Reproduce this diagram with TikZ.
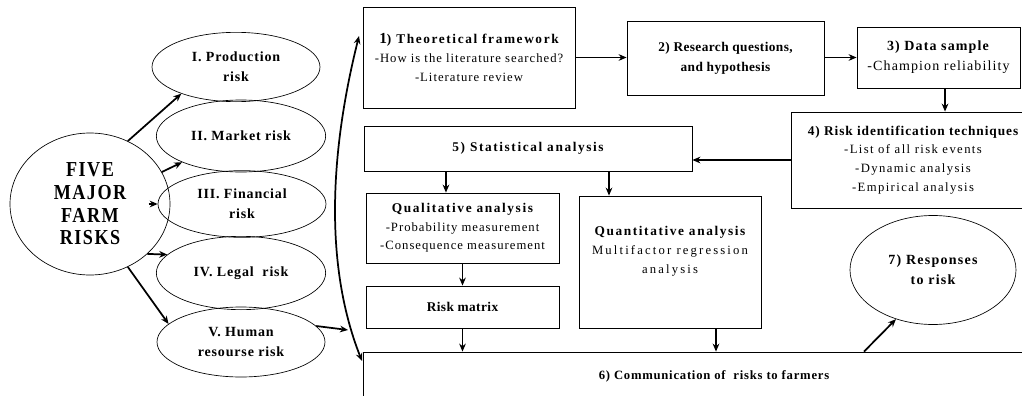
\documentclass[tikz,border=0pt]{standalone}
\usepackage{fontspec}
\setmainfont{Liberation Serif}[LetterSpace=8]
\usetikzlibrary{shapes.geometric,arrows.meta}
\newcommand{\ttl}[1]{{\fontsize{10}{13.5}\selectfont\addfontfeature{LetterSpace=12}\bfseries #1}}
\newcommand{\ls}[1]{\addfontfeature{LetterSpace=#1}}
\begin{document}
\begin{tikzpicture}[x=0.75pt,y=-0.75pt,
  box/.style={draw,line width=0.6pt,inner sep=0pt,align=center,font=\fontsize{9.5}{14}\selectfont},
  oval/.style={draw,ellipse,line width=0.5pt,inner sep=0pt,align=center,font=\bfseries\fontsize{10.5}{15}\selectfont\ls{6}},
  arr/.style={line width=1.3pt,-{Stealth[length=6pt,width=5pt]}},
  darr/.style={line width=1.3pt,{Stealth[length=6pt,width=5pt]}-{Stealth[length=6pt,width=5pt]}}]
\clip (0,0) rectangle (1022,396);
% left ellipses
\node[oval,minimum width=120pt,minimum height=106.5pt,font=\bfseries\fontsize{16}{17}\selectfont\addfontfeature{FakeStretch=0.85,LetterSpace=7}] (big) at (90,204) {FIVE\\MAJOR\\FARM\\RISKS};
\node[oval,minimum width=126pt,minimum height=52pt] (e1) at (236,67) {I. Production\\risk};
\node[oval,minimum width=127pt,minimum height=54pt] (e2) at (241,136) {II. Market risk};
\node[oval,minimum width=126pt,minimum height=50pt] (e3) at (242,204) {III. Financial\\risk};
\node[oval,minimum width=127pt,minimum height=55pt] (e4) at (241,273) {IV. Legal\ \ risk};
\node[oval,minimum width=126pt,minimum height=52.5pt] (e5) at (241,342) {V. Human\\resourse risk};
\draw[arr] (big.59) -- (e1.206);
\draw[arr] (big.24) -- (e2.204);
\draw[arr,shorten <=44pt] (big.center) -- (e3.west);
\draw[arr] (big.-41) -- (e4.166);
\draw[arr] (big.-59) -- (e5.166);
% curved double arrow
\coordinate (ct) at (359,36);
\coordinate (cb) at (362,361);
\coordinate (cm) at (348,330);
\draw[darr] (cb) .. controls (326,270) and (328,160) .. (ct);
\draw[arr] (e5.12) -- (cm);
% boxes
\node[box,minimum width=159pt,minimum height=75.75pt] (b1) at (469,57.5)
  {\ttl{{\fontsize{11.5}{13.5}\selectfont 1}) Theoretical framework}\\-How is the literature searched?\\-Literature review};
\node[box,minimum width=147.75pt,minimum height=55.5pt,font=\bfseries\fontsize{10}{15}\selectfont\ls{3}] (b2) at (725.5,58)
  {2) Research questions,\\and hypothesis};
\node[box,minimum width=122.25pt,minimum height=45.75pt,font=\fontsize{10.5}{15}\selectfont] (b3) at (938.5,57.5)
  {\textbf{3) Data sample}\\-Champion reliability};
\node[box,minimum width=183pt,minimum height=72pt,font=\fontsize{9.5}{14}\selectfont\ls{11}] (b4) at (913,160)
  {{\fontsize{10}{13.5}\selectfont\ls{7}\bfseries 4) Risk identification techniques}\\-List of all risk events\\-Dynamic analysis\\-Empirical analysis};
\node[box,minimum width=246pt,minimum height=33.75pt] (b5) at (528,148.5)
  {\ttl{5) Statistical analysis}};
\node[box,minimum width=144.75pt,minimum height=52.5pt] (ql) at (462.5,228)
  {\ttl{Qualitative analysis}\\-Probability measurement\\-Consequence measurement};
\node[box,minimum width=144.75pt,minimum height=31.5pt,font=\bfseries\fontsize{10}{14}\selectfont\ls{3}] (rm) at (462.5,307)
  {Risk matrix};
\node[box,minimum width=136.5pt,minimum height=99pt,font=\fontsize{9.5}{14}\selectfont\ls{17}] (qn) at (670,262)
  {\ttl{Quantitative analysis}\\Multifactor regression\\analysis\\[4pt]~};
\node[box,minimum width=526.5pt,minimum height=36pt,font=\bfseries\fontsize{9.5}{14}\selectfont\ls{6}] (b6) at (714,376)
  {6) Communication of\ \ risks to farmers};
\node[oval,minimum width=124.5pt,minimum height=81.75pt,font=\bfseries\fontsize{10.5}{15}\selectfont\ls{9}] (e7) at (933,270)
  {7) Responses\\to risk};
% connectors
\draw[arr] (b1.east) -- (b1.east -| b2.west);
\draw[arr] (b2.east |- b1.east) -- (b1.east -| b3.west);
\draw[arr] ([xshift=4.9pt]b3.south) -- ([xshift=4.9pt]b3.south |- b4.north);
\draw[arr] (b4.west) -- (b4.west -| b5.east);
\draw[arr] ([xshift=-12.4pt]ql.north |- b5.south) -- ([xshift=-12.4pt]ql.north);
\draw[arr] ([xshift=-45.75pt]qn.north |- b5.south) -- ([xshift=-45.75pt]qn.north);
\draw[arr] (ql.south) -- (rm.north);
\draw[arr] (rm.south) -- (rm.south |- b6.north);
\draw[arr] ([xshift=34.5pt]qn.south) -- ([xshift=34.5pt]qn.south |- b6.north);
\draw[arr] ([xshift=112.5pt]b6.north) -- (e7.233);
\end{tikzpicture}
\end{document}
